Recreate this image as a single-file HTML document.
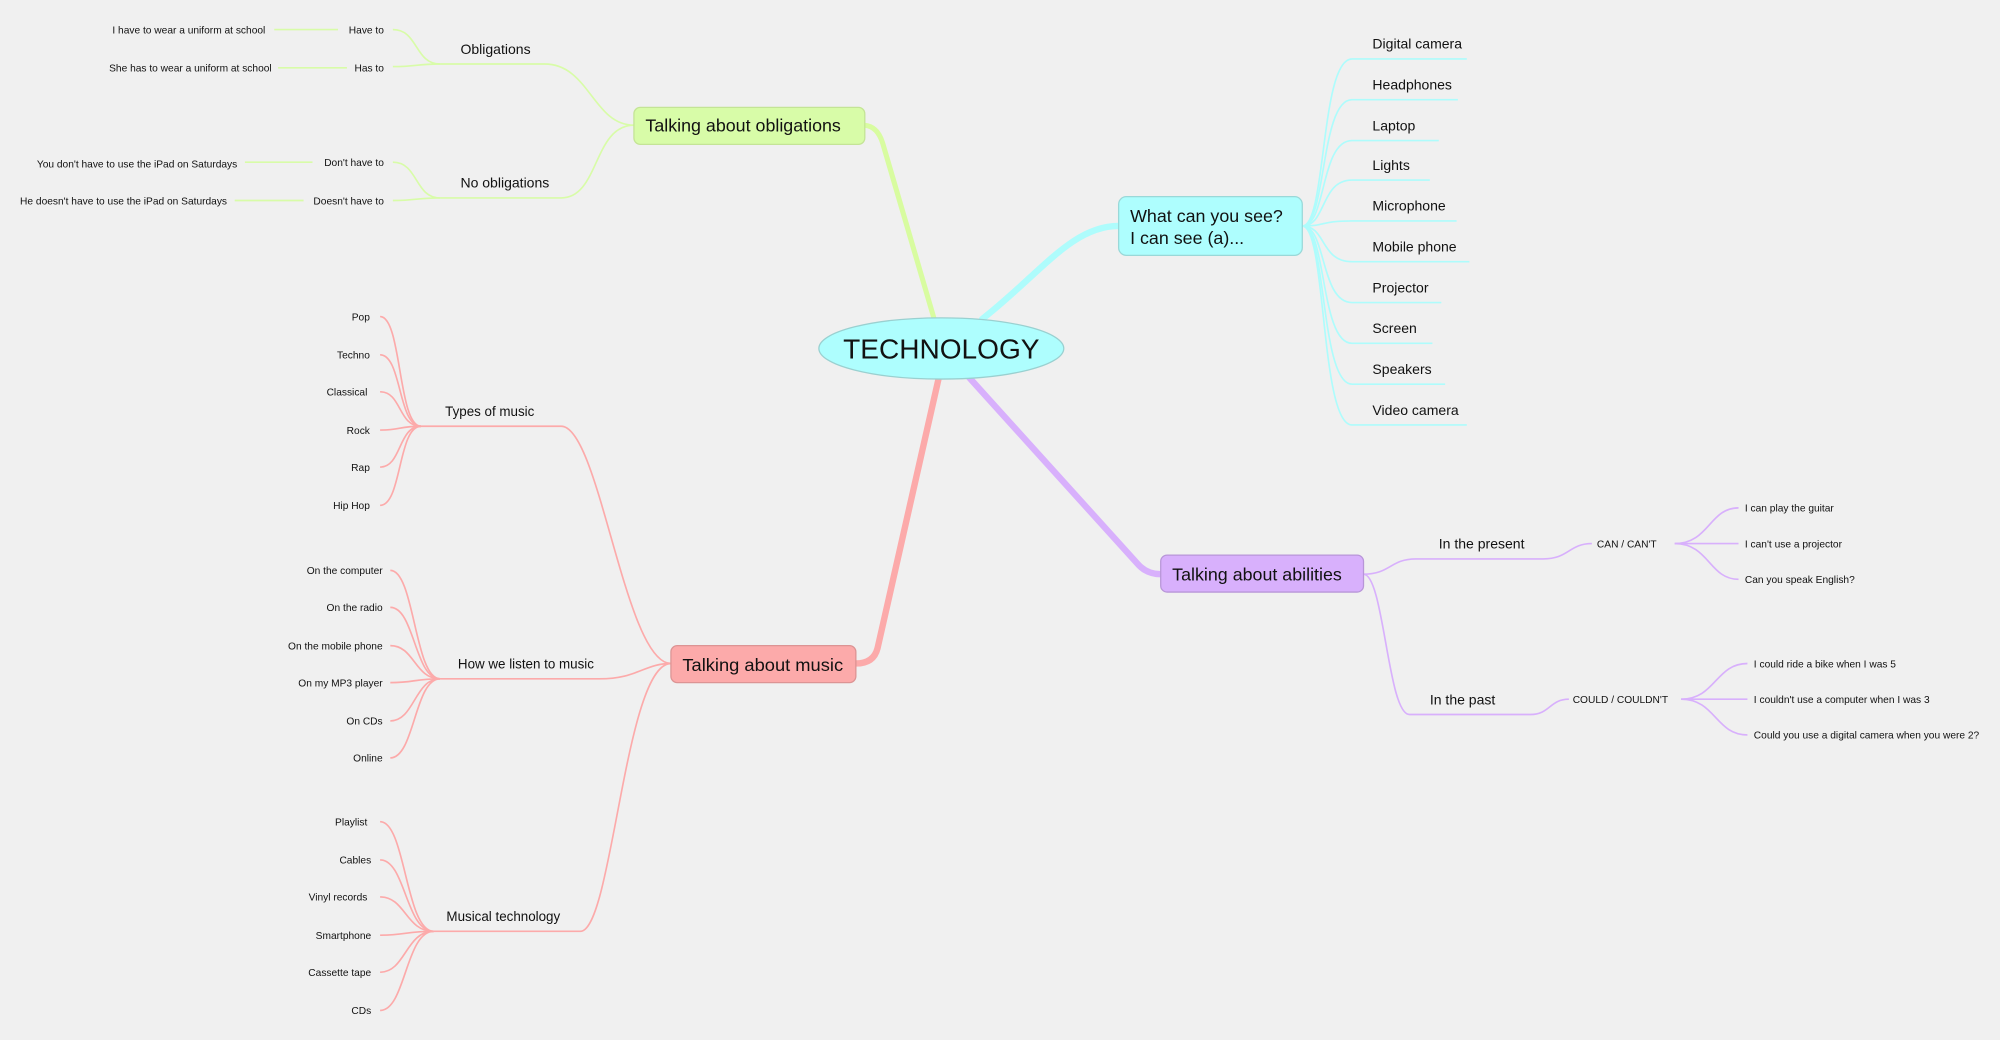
<!DOCTYPE html>
<html><head><meta charset="utf-8"><style>
html,body{margin:0;padding:0;background:#f0f0f0;}
svg{display:block;}
text{font-family:"Liberation Sans",sans-serif;fill:#111;}
.m{font-family:"DejaVu Sans","Liberation Sans",sans-serif;}
</style></head><body>
<svg width="2000" height="1040" viewBox="0 0 1568 815" xmlns="http://www.w3.org/2000/svg">
<rect width="1568" height="815" fill="#f0f0f0"/>
<!-- main branches -->
<g fill="none" stroke-linecap="round">
<path d="M733 252 L692 112 Q688 99 678 98" stroke="#d8fca0" stroke-width="4"/>
<path d="M770 250 C815 215 840 177 877 177" stroke="#aefcfc" stroke-width="5"/>
<path d="M760 296 L892 442 Q899 450 910 450" stroke="#d8b0fc" stroke-width="5"/>
<path d="M736 296 L688 508 Q685 520 671 520" stroke="#fcaaaa" stroke-width="5"/>
</g>
<!-- obligations -->
<g fill="none" stroke="#d8fca8" stroke-width="1.3">
<path d="M497 98 C465 98 462 50 427 50 L345 50"/>
<path d="M345 50 C325 50 328 23 308 23"/>
<path d="M345 50 C325 50 328 52 308 52"/>
<path d="M497 98 C465 98 470 155 440 155 L345 155"/>
<path d="M345 155 C325 155 328 127 308 127"/>
<path d="M345 155 C325 155 328 157 308 157"/>
<path d="M215 23 H265"/><path d="M218 53 H272"/>
<path d="M192 127 H245"/><path d="M184 157 H238"/>
</g>
<rect x="497" y="84" width="181" height="29" rx="5" fill="#d8fca8" stroke="#c4e496"/>
<text x="506" y="103" font-size="14">Talking about obligations</text>
<text x="361" y="42" font-size="11">Obligations</text>
<text x="361" y="147" font-size="11">No obligations</text>
<g font-size="8" text-anchor="end">
<text x="301" y="26">Have to</text><text x="301" y="56">Has to</text>
<text x="301" y="130">Don't have to</text><text x="301" y="160">Doesn't have to</text>
<text x="208" y="26">I have to wear a uniform at school</text>
<text x="213" y="56">She has to wear a uniform at school</text>
<text x="186" y="131">You don't have to use the iPad on Saturdays</text>
<text x="178" y="160">He doesn't have to use the iPad on Saturdays</text>
</g>
<!-- what can you see -->
<g fill="none" stroke="#aefcfc" stroke-width="1.3">
<path d="M1021 177 C1040 177 1035 46 1060 46 H1150"/>
<path d="M1021 177 C1040 177 1035 78 1060 78 H1143"/>
<path d="M1021 177 C1040 177 1035 110 1060 110 H1128"/>
<path d="M1021 177 C1040 177 1035 141 1060 141 H1121"/>
<path d="M1021 177 C1040 177 1035 173 1060 173 H1142"/>
<path d="M1021 177 C1040 177 1035 205 1060 205 H1152"/>
<path d="M1021 177 C1040 177 1035 237 1060 237 H1130"/>
<path d="M1021 177 C1040 177 1035 269 1060 269 H1123"/>
<path d="M1021 177 C1040 177 1035 301 1060 301 H1133"/>
<path d="M1021 177 C1040 177 1035 333 1060 333 H1150"/>
</g>
<rect x="877" y="154" width="144" height="46" rx="6" fill="#aefefe" stroke="#9ad8d8"/>
<text x="886" y="174" font-size="14">What can you see?</text>
<text x="886" y="191" font-size="14">I can see (a)...</text>
<g font-size="11">
<text x="1076" y="38">Digital camera</text><text x="1076" y="70">Headphones</text>
<text x="1076" y="102">Laptop</text><text x="1076" y="133">Lights</text>
<text x="1076" y="165">Microphone</text><text x="1076" y="197">Mobile phone</text>
<text x="1076" y="229">Projector</text><text x="1076" y="261">Screen</text>
<text x="1076" y="293">Speakers</text><text x="1076" y="325">Video camera</text>
</g>
<!-- TECHNOLOGY -->
<ellipse cx="738" cy="273" rx="96" ry="24" fill="#aefefe" stroke="#9ad0d0"/>
<text x="738" y="281" font-size="22" text-anchor="middle">TECHNOLOGY</text>
<!-- abilities -->
<g fill="none" stroke="#d8b0fc" stroke-width="1.3">
<path d="M1069 450 C1090 450 1090 438 1110 438 H1210 C1230 438 1230 426 1248 426"/>
<path d="M1069 450 C1085 450 1088 560 1105 560 H1200 C1215 560 1215 548 1230 548"/>
<path d="M1313 426 C1340 426 1340 398 1363 398"/>
<path d="M1313 426 H1363"/>
<path d="M1313 426 C1340 426 1340 454 1363 454"/>
<path d="M1318 548 C1345 548 1345 520 1370 520"/>
<path d="M1318 548 H1370"/>
<path d="M1318 548 C1345 548 1345 576 1370 576"/>
</g>
<rect x="910" y="435" width="159" height="29" rx="5" fill="#d8b0fc" stroke="#b896d8"/>
<text x="919" y="455" font-size="14">Talking about abilities</text>
<text x="1128" y="430" font-size="11">In the present</text>
<text x="1121" y="552" font-size="11">In the past</text>
<g font-size="8">
<text x="1252" y="429">CAN / CAN'T</text>
<text x="1233" y="551">COULD / COULDN'T</text>
<text x="1368" y="401">I can play the guitar</text>
<text x="1368" y="429">I can't use a projector</text>
<text x="1368" y="457">Can you speak English?</text>
<text x="1375" y="523">I could ride a bike when I was 5</text>
<text x="1375" y="551">I couldn't use a computer when I was 3</text>
<text x="1375" y="579">Could you use a digital camera when you were 2?</text>
</g>
<!-- music -->
<g fill="none" stroke="#fcaaaa" stroke-width="1.3">
<path d="M526 520 C490 520 470 334 440 334 H330"/>
<path d="M526 520 C505 520 500 532 470 532 H345"/>
<path d="M526 520 C490 520 480 730 455 730 H340"/>
<path d="M330 334 C312 334 315 248 298 248"/>
<path d="M330 334 C312 334 315 278 298 278"/>
<path d="M330 334 C312 334 315 307 298 307"/>
<path d="M330 334 C312 334 315 337 298 337"/>
<path d="M330 334 C312 334 315 366 298 366"/>
<path d="M330 334 C312 334 315 396 298 396"/>
<path d="M345 532 C325 532 325 447 306 447"/>
<path d="M345 532 C325 532 325 476 306 476"/>
<path d="M345 532 C325 532 325 506 306 506"/>
<path d="M345 532 C325 532 325 535 306 535"/>
<path d="M345 532 C325 532 325 565 306 565"/>
<path d="M345 532 C325 532 325 594 306 594"/>
<path d="M340 730 C318 730 318 644 298 644"/>
<path d="M340 730 C318 730 318 674 298 674"/>
<path d="M340 730 C318 730 318 703 298 703"/>
<path d="M340 730 C318 730 318 733 298 733"/>
<path d="M340 730 C318 730 318 762 298 762"/>
<path d="M340 730 C318 730 318 792 298 792"/>
</g>
<rect x="526" y="506" width="145" height="29" rx="5" fill="#fcaaaa" stroke="#dc9494"/>
<text x="535" y="526" font-size="14" textLength="126" lengthAdjust="spacingAndGlyphs">Talking about music</text>
<g font-size="10.5" class="m">
<text x="349" y="326">Types of music</text>
<text x="359" y="524">How we listen to music</text>
<text x="350" y="722">Musical technology</text>
</g>
<g font-size="8" class="m" text-anchor="end">
<text x="290" y="251">Pop</text><text x="290" y="281">Techno</text><text x="288" y="310">Classical</text>
<text x="290" y="340">Rock</text><text x="290" y="369">Rap</text><text x="290" y="399">Hip Hop</text>
<text x="300" y="450">On the computer</text><text x="300" y="479">On the radio</text>
<text x="300" y="509">On the mobile phone</text><text x="300" y="538">On my MP3 player</text>
<text x="300" y="568">On CDs</text><text x="300" y="597">Online</text>
<text x="288" y="647">Playlist</text><text x="291" y="677">Cables</text>
<text x="288" y="706">Vinyl records</text><text x="291" y="736">Smartphone</text>
<text x="291" y="765">Cassette tape</text><text x="291" y="795">CDs</text>
</g>
</svg>
</body></html>
